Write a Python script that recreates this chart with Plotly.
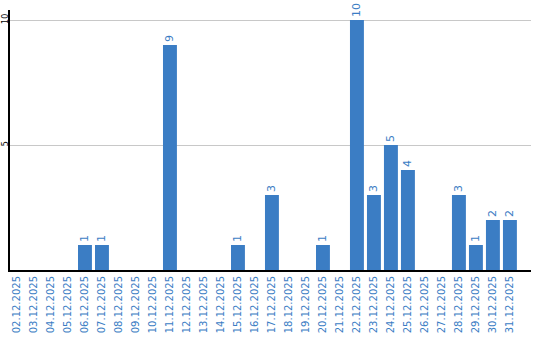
import plotly.graph_objects as go

dates = ["02.12.2025","03.12.2025","04.12.2025","05.12.2025","06.12.2025","07.12.2025",
         "08.12.2025","09.12.2025","10.12.2025","11.12.2025","12.12.2025","13.12.2025",
         "14.12.2025","15.12.2025","16.12.2025","17.12.2025","18.12.2025","19.12.2025",
         "20.12.2025","21.12.2025","22.12.2025","23.12.2025","24.12.2025","25.12.2025",
         "26.12.2025","27.12.2025","28.12.2025","29.12.2025","30.12.2025","31.12.2025"]
values = [0,0,0,0,1,1,0,0,0,9,0,0,0,1,0,3,0,0,1,0,10,3,5,4,0,0,3,1,2,2]
ytick_vals = [5, 10]
ytick_text = ["5", "10"]

blue = "#3b7dc4"
texts = [str(v) if v else "" for v in values]

fig = go.Figure(go.Bar(
    x=list(range(len(dates))), y=values, text=texts,
    textposition="outside", textangle=-90, cliponaxis=False,
    textfont=dict(color=blue, size=11, family="DejaVu Sans"),
    marker=dict(color=blue, line=dict(width=0)), width=0.82,
))
fig.update_layout(
    width=540, height=340, margin=dict(l=10, r=9, t=10, b=70),
    plot_bgcolor="white", paper_bgcolor="white", showlegend=False,
    font=dict(family="DejaVu Sans"),
)
fig.update_xaxes(range=[-0.41, 30.24], tickmode="array", tickvals=list(range(len(dates))),
                 ticktext=dates, tickangle=-90, showline=True, linecolor="black", linewidth=2,
                 tickfont=dict(color=blue, size=10, family="DejaVu Sans"), showgrid=False,
                 ticks="", automargin=False)
fig.update_yaxes(range=[0, 10.4], tickmode="array", tickvals=ytick_vals, ticktext=ytick_text,
                 tickangle=-90, showline=True, linecolor="black", linewidth=2,
                 gridcolor="#c8c8c8", gridwidth=1, zeroline=False, ticks="",
                 tickfont=dict(color="black", size=8, family="DejaVu Sans"), automargin=False,
                 ticklabelstandoff=-3)
fig.write_html("out.html")
